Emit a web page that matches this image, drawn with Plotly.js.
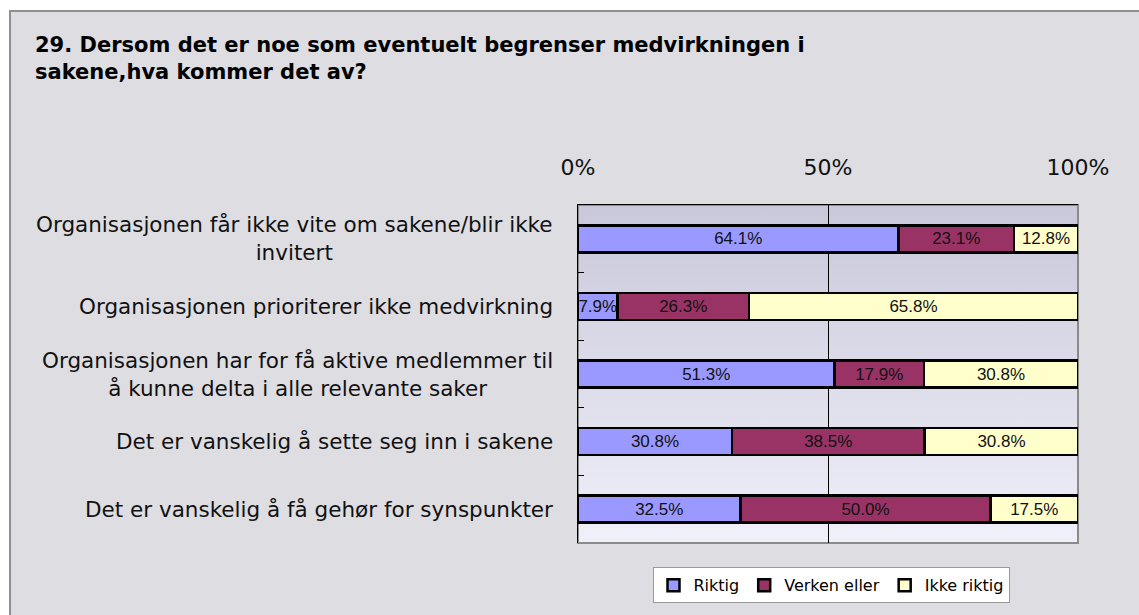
<!DOCTYPE html>
<html>
<head>
<meta charset="utf-8">
<script src="https://cdn.plot.ly/plotly-3.0.1.min.js"></script>
<style>
  html, body { margin: 0; padding: 0; background: #ffffff; width: 1139px; height: 615px; overflow: hidden; }
  #chart { position: absolute; left: 9px; top: 10px; width: 1128px; height: 603px;
           border-left: 2px solid #8f8f8f; border-top: 2px solid #8f8f8f; }
</style>
</head>
<body>
<div id="chart"></div>
<script>
const categories = [
  "Organisasjonen får ikke vite om sakene/blir ikke<br>invitert",
  "Organisasjonen prioriterer ikke medvirkning",
  "Organisasjonen har for få aktive medlemmer til<br>å kunne delta i alle relevante saker",
  "Det er vanskelig å sette seg inn i sakene",
  "Det er vanskelig å få gehør for synspunkter"
];
const seriesNames = ["Riktig", "Verken eller", "Ikke riktig"];
const riktig = [64.1, 7.9, 51.3, 30.8, 32.5];
const verkenEller = [23.1, 26.3, 17.9, 38.5, 50.0];
const ikkeRiktig = [12.8, 65.8, 30.8, 30.8, 17.5];
const xTickVals = [0, 50, 100];
const xTickText = ["0%", "50%", "100%"];
const titleText = "29. Dersom det er noe som eventuelt begrenser medvirkningen i<br>sakene,hva kommer det av?";

const colors = ["#9999ff", "#993366", "#ffffcc"];
const font = "'DejaVu Sans', Verdana, sans-serif";
const barFont = "'Liberation Sans', Arial, sans-serif";

function barTrace(name, vals, color) {
  return {
    type: "bar", orientation: "h", name: name,
    x: vals, y: categories,
    text: vals.map(v => v.toFixed(1) + "%"),
    texttemplate: "%{text}",
    textposition: "inside", insidetextanchor: "middle",
    constraintext: "none",
    textfont: { family: barFont, size: 17, color: "#111111" },
    marker: { color: color, line: { color: "#000000", width: 2.5 } },
    hoverinfo: "skip"
  };
}

const data = [
  barTrace(seriesNames[0], riktig, colors[0]),
  barTrace(seriesNames[1], verkenEller, colors[1]),
  barTrace(seriesNames[2], ikkeRiktig, colors[2])
];

const gradSvg = '<svg xmlns="http://www.w3.org/2000/svg" width="100" height="100" preserveAspectRatio="none">' +
  '<defs><linearGradient id="g" x1="0" y1="0" x2="0" y2="1">' +
  '<stop offset="0" stop-color="#c8c8da"/><stop offset="1" stop-color="#f0f0fa"/></linearGradient></defs>' +
  '<rect width="100" height="100" fill="url(#g)"/></svg>';
const gradUri = "data:image/svg+xml;base64," + btoa(gradSvg);

const annotations = categories.map(c => ({
  xref: "paper", yref: "y", x: -0.046, y: c,
  xanchor: "right", yanchor: "middle", align: "center",
  text: c, showarrow: false,
  font: { family: font, size: 21.5, color: "#111111" }
}));

const layout = {
  width: 1128, height: 603,
  margin: { l: 567, r: 61, t: 193, b: 63 },
  paper_bgcolor: "#dddde2",
  plot_bgcolor: "rgba(0,0,0,0)",
  barmode: "stack",
  bargap: 0.6,
  showlegend: true,
  title: {
    text: titleText,
    xref: "container", yref: "container",
    x: 24 / 1128, xanchor: "left",
    y: 1 - 40 / 603, yanchor: "top",
    font: { family: font, size: 21, color: "#000000", weight: "bold" }
  },
  images: [{
    source: gradUri, xref: "paper", yref: "paper",
    x: 0, y: 1, sizex: 1, sizey: 1, sizing: "stretch",
    xanchor: "left", yanchor: "top", layer: "below"
  }],
  xaxis: {
    side: "top", range: [0, 100], tickmode: "array", tickvals: xTickVals, ticktext: xTickText,
    ticks: "", showgrid: true, gridcolor: "#000000", gridwidth: 1,
    zeroline: false, showline: true, linecolor: "#000000", linewidth: 1.5,
    tickfont: { family: font, size: 22, color: "#111111" },
    ticklabelstandoff: 20, fixedrange: true
  },
  yaxis: {
    autorange: "reversed", type: "category",
    showticklabels: false, ticks: "inside", tickson: "boundaries",
    ticklen: 6, tickcolor: "#000000", tickwidth: 1,
    showgrid: false, zeroline: false,
    showline: true, linecolor: "#000000", linewidth: 1.5, fixedrange: true
  },
  shapes: [{
    type: "rect", xref: "paper", yref: "paper", x0: 0, x1: 1, y0: 0, y1: 1,
    line: { color: "#8a8a8a", width: 2 }, layer: "below"
  }],
  annotations: annotations,
  legend: {
    orientation: "h", xref: "paper", yref: "paper",
    x: 0.506, xanchor: "center", y: -0.072, yanchor: "top",
    bgcolor: "#ffffff", bordercolor: "#9a9a9a", borderwidth: 1,
    font: { family: font, size: 16, color: "#000000" },
    traceorder: "normal", itemwidth: 30
  }
};

Plotly.newPlot("chart", data, layout, { displayModeBar: false, staticPlot: true });
</script>
</body>
</html>
